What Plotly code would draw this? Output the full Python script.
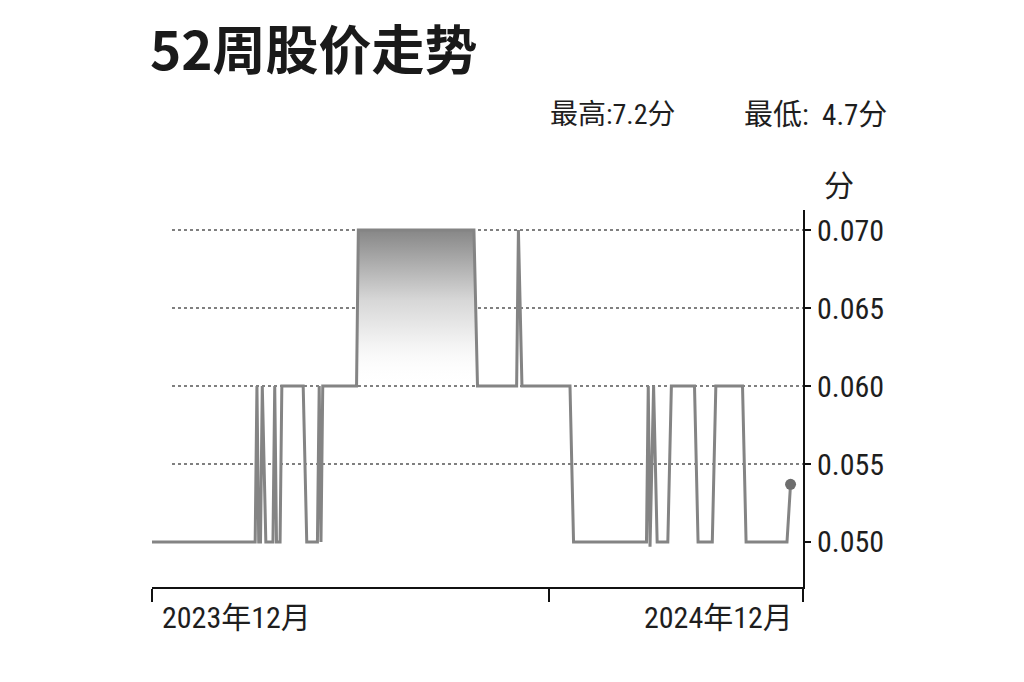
import plotly.graph_objects as go

# ---- data ----
dates = [
    "2023-12-20", "2024-02-16", "2024-02-17", "2024-02-18", "2024-02-19",
    "2024-02-20", "2024-02-22", "2024-02-26", "2024-02-27", "2024-02-28",
    "2024-03-01", "2024-03-02", "2024-03-14", "2024-03-16", "2024-03-22",
    "2024-03-23", "2024-03-24", "2024-03-25", "2024-04-13", "2024-04-14",
    "2024-06-18", "2024-06-20", "2024-07-12", "2024-07-13", "2024-07-15",
    "2024-08-11", "2024-08-13", "2024-09-23", "2024-09-24", "2024-09-25",
    "2024-09-27", "2024-09-29", "2024-10-05", "2024-10-07", "2024-10-20",
    "2024-10-22", "2024-10-30", "2024-11-01", "2024-11-16", "2024-11-18",
    "2024-12-11", "2024-12-13",
]
prices = [
    0.050, 0.050, 0.060, 0.050, 0.050,
    0.060, 0.050, 0.050, 0.060, 0.050,
    0.050, 0.060, 0.060, 0.050, 0.050,
    0.060, 0.050, 0.060, 0.060, 0.070,
    0.070, 0.060, 0.060, 0.070, 0.060,
    0.060, 0.050, 0.050, 0.060, 0.0497,
    0.060, 0.050, 0.050, 0.060, 0.060,
    0.050, 0.050, 0.060, 0.060, 0.050,
    0.050, 0.0537,
]
y_ticks = [0.050, 0.055, 0.060, 0.065, 0.070]
y_tick_labels = ["0.050", "0.055", "0.060", "0.065", "0.070"]
grid_values = [0.055, 0.060, 0.065, 0.070]
x_range = ["2023-12-20", "2024-12-20"]
x_ticks = ["2023-12-20", "2024-07-30", "2024-12-20"]
x_label_left = "2023年12月"
x_label_right = "2024年12月"
title_text = "52周股价走势"
high_text = "最高:7.2分"
low_text = "最低:\u00a0\u00a04.7分"
unit_text = "分"

NARROW = "Roboto Condensed, Liberation Sans Narrow, Liberation Sans, Noto Sans CJK SC, sans-serif"
INK = "#1e1e1e"

fig = go.Figure()

# gradient area
fig.add_trace(go.Scatter(
    x=dates, y=prices, mode="lines",
    line=dict(color="rgba(0,0,0,0)", width=0),
    fill="tozeroy",
    fillgradient=dict(
        type="vertical", start=0.0600, stop=0.0700,
        colorscale=[[0, "rgba(255,255,255,0)"], [0.25, "rgba(245,245,245,1)"],
                    [0.55, "rgba(215,215,215,1)"], [1, "rgba(135,135,135,1)"]],
    ),
    hoverinfo="skip", showlegend=False,
))

# price line
fig.add_trace(go.Scatter(
    x=dates, y=prices, mode="lines",
    line=dict(color="#848484", width=3),
    showlegend=False,
))
# last-point dot
fig.add_trace(go.Scatter(
    x=[dates[-1]], y=[prices[-1]], mode="markers",
    marker=dict(color="#6e6e6e", size=11),
    showlegend=False,
))

# dotted grid lines
for g in grid_values:
    fig.add_shape(type="line", xref="paper", yref="y", x0=0.0307, x1=1, y0=g, y1=g,
                  line=dict(color="#555555", width=1.5, dash="dot"), layer="below")

fig.update_layout(
    width=1024, height=682,
    margin=dict(l=144, r=229, t=202, b=103),
    paper_bgcolor="white", plot_bgcolor="white",
    showlegend=False,
)
fig.update_xaxes(
    type="date", range=x_range, tickvals=x_ticks, showticklabels=False,
    ticks="outside", ticklen=13, tickwidth=1.5, tickcolor="#111",
    showline=True, linecolor="#111", linewidth=2, showgrid=False, zeroline=False,
)
fig.update_yaxes(
    side="right", range=[0.047115, 0.071282], tickvals=y_ticks, ticktext=y_tick_labels,
    ticks="outside", ticklen=6, tickwidth=1.5, tickcolor="#111",
    showline=True, linecolor="#111", linewidth=2, showgrid=False, zeroline=False,
    tickfont=dict(family=NARROW, size=30, color=INK),
)

# title as annotation
fig.add_annotation(text=title_text, xref="paper", yref="paper", x=-0.006, y=1.432,
                   xanchor="left", yanchor="middle", showarrow=False,
                   font=dict(family="Noto Sans CJK SC, sans-serif", size=53, color="#1a1a1a", weight="bold"))

ann_font = dict(family=NARROW, size=28, color=INK)
fig.add_annotation(text=high_text, xref="paper", yref="paper", x=0.6083, y=1.252,
                   xanchor="left", yanchor="middle", showarrow=False, font=ann_font)
fig.add_annotation(text=low_text, xref="paper", yref="paper", x=0.9063, y=1.252,
                   xanchor="left", yanchor="middle", showarrow=False,
                   font=dict(family=NARROW, size=29, color=INK))
fig.add_annotation(text=unit_text, xref="paper", yref="paper", x=1.029, y=1.066,
                   xanchor="left", yanchor="middle", showarrow=False,
                   font=dict(family=NARROW, size=30, color=INK))
fig.add_annotation(text=x_label_left, xref="paper", yref="paper", x=0.0123, y=-0.0822,
                   xanchor="left", yanchor="middle", showarrow=False,
                   font=dict(family=NARROW, size=30, color=INK))
fig.add_annotation(text=x_label_right, xref="paper", yref="paper", x=0.9877, y=-0.0822,
                   xanchor="right", yanchor="middle", showarrow=False,
                   font=dict(family=NARROW, size=30, color=INK))

fig.write_html("out.html")
